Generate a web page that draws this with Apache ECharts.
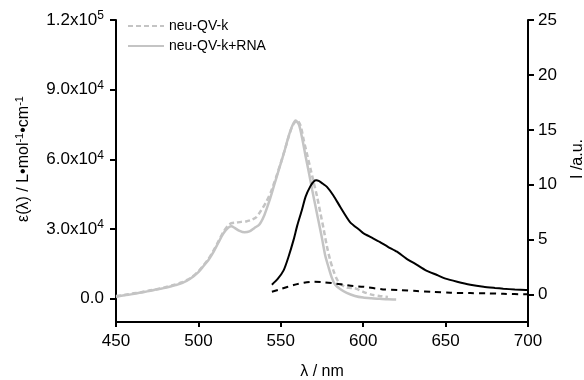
<!DOCTYPE html>
<html>
<head>
<meta charset="utf-8">
<script src="https://cdn.jsdelivr.net/npm/echarts@6/dist/echarts.min.js"></script>
<style>html,body{margin:0;padding:0;background:#fff}#c{width:584px;height:380px}</style>
</head>
<body>
<div id="c"></div>
<script>
// Absorption: neu-QV-k (gray dashed), left axis
const absFreeX = [450,455,460,465,470,475,480,485,490,495,500,503,506,509,512,515,518,520,523,526,529,532,535,538,541,544,547,550,553,556,558,560,562,564,566,568,570,572,574,576,578,580,582,584,586,590,595,600,605,610,615];
const absFreeY = [1200,1600,2300,2700,3600,4100,5000,5900,7100,8800,11800,14300,17000,20500,24500,28500,31500,32500,32800,33100,33300,33900,35000,38000,41500,46000,52000,58500,65500,72500,75500,76800,74500,68000,62000,56000,50000,44000,37000,30000,22500,16500,12000,8500,6500,4800,4500,3000,1800,1200,800];
// Absorption: neu-QV-k+RNA (gray solid), left axis
const absRnaX = [450,455,460,465,470,475,480,485,490,495,500,503,506,509,512,515,518,520,522,525,528,531,534,537,540,543,546,549,552,555,557,559,561,563,565,567,569,571,573,575,577,579,581,583,586,590,595,600,605,610,615,620];
const absRnaY = [800,1500,2000,2700,3300,4100,4700,5700,6700,8600,11500,14000,16600,20000,24000,28000,30500,31200,30500,29200,28600,29000,30500,32000,36000,42000,49000,56000,63000,70500,74500,76700,75000,69000,61500,54500,47000,40000,33000,26000,18500,13500,9000,6000,4200,2500,1200,500,200,0,-200,-300];
// Emission with RNA (black solid), right axis
const emRnaX = [544.6,548,551.7,554.6,557.8,560,562.8,565,567.9,570,571.5,573,575,578,582,586,592,598,600,605,610,615,620.5,626,632.6,638,644.8,650,657,665,673,680,685,692,698.7,700];
const emRnaY = [0.9,1.4,2.2,3.4,5.0,6.3,7.7,8.9,9.85,10.3,10.4,10.35,10.15,9.8,9.0,8.0,6.6,5.85,5.6,5.2,4.8,4.35,3.9,3.3,2.7,2.2,1.78,1.45,1.17,0.9,0.71,0.6,0.53,0.46,0.41,0.4];
// Emission without RNA (black dashed), right axis
const emFreeX = [544.6,550,557.8,564,570,576,582,588,594,600,612,622,632.6,642,653,665,675,685,698.7,700];
const emFreeY = [0.26,0.5,0.87,1.08,1.17,1.12,1.02,0.9,0.77,0.71,0.47,0.4,0.32,0.24,0.16,0.13,0.11,0.07,0.02,0.02];

const xTicks = [450,500,550,600,650,700];
const leftTicks = [0,30000,60000,90000,120000];
const leftTickLabels = {0:'{m|0.0}',30000:'{m|3.0x10}{s|4}',60000:'{m|6.0x10}{s|4}',90000:'{m|9.0x10}{s|4}',120000:'{m|1.2x10}{s|5}'};
const rightTicks = [0,5,10,15,20,25];

const zip = (xs, ys) => xs.map((x, i) => [x, ys[i]]);
const FONT = '"Liberation Sans", Arial, sans-serif';
const axisLine = {show: true, onZero: false, lineStyle: {color: '#000', width: 2}};

const chart = echarts.init(document.getElementById('c'), null, {renderer: 'canvas'});
chart.setOption({
  animation: false,
  backgroundColor: '#fff',
  grid: {left: 116, right: 56, top: 20, bottom: 58, containLabel: false, outerBoundsMode: 'none'},
  legend: {
    data: ['neu-QV-k', 'neu-QV-k+RNA'],
    orient: 'vertical', left: 122, top: 14,
    itemWidth: 36, itemHeight: 10, itemGap: 6,
    itemStyle: {opacity: 0},
    textStyle: {fontFamily: FONT, fontSize: 14, color: '#000'}
  },
  xAxis: {
    type: 'value', min: 450, max: 700, interval: 50,
    axisLine: axisLine,
    axisTick: {show: true, inside: false, length: 5, lineStyle: {color: '#000', width: 2}},
    axisLabel: {fontFamily: FONT, fontSize: 17, color: '#000', margin: 11},
    splitLine: {show: false},
    name: 'λ / nm', nameLocation: 'middle', nameGap: 42,
    nameTextStyle: {fontFamily: FONT, fontSize: 16, color: '#000'}
  },
  yAxis: [
    {
      type: 'value', position: 'left', min: -10000, max: 120000,
      axisLine: axisLine,
      axisTick: {show: true, length: 6, customValues: leftTicks, lineStyle: {color: '#000', width: 2}},
      axisLabel: {
        customValues: leftTicks, margin: 12,
        formatter: v => leftTickLabels[v] || '',
        rich: {
          m: {fontFamily: FONT, fontSize: 17, color: '#000'},
          s: {fontFamily: FONT, fontSize: 12, color: '#000', verticalAlign: 'top', padding: [0,0,8,0]}
        }
      },
      splitLine: {show: false},
      name: '{m|ε(λ) / L•mol}{s|-1}{m|•cm}{s|-1}', nameLocation: 'middle', nameGap: 83,
      nameTextStyle: {
        padding: [0,0,0,24],
        rich: {
          m: {fontFamily: FONT, fontSize: 16, color: '#000'},
          s: {fontFamily: FONT, fontSize: 11, color: '#000', verticalAlign: 'top', padding: [0,0,8,0]}
        }
      }
    },
    {
      type: 'value', position: 'right', min: -2.5, max: 25,
      axisLine: axisLine,
      axisTick: {show: true, length: 6, customValues: rightTicks, lineStyle: {color: '#000', width: 2}},
      axisLabel: {customValues: rightTicks, fontFamily: FONT, fontSize: 17, color: '#000', margin: 10},
      splitLine: {show: false},
      name: 'I /a.u.', nameLocation: 'middle', nameGap: 42,
      nameTextStyle: {fontFamily: FONT, fontSize: 16, color: '#000', padding: [0,0,0,24]}
    }
  ],
  series: [
    {
      name: 'neu-QV-k', type: 'line', yAxisIndex: 0, symbol: 'none', smooth: 0.25,
      data: zip(absFreeX, absFreeY),
      lineStyle: {color: '#c4c4c4', width: 2.5, type: [5, 3]},
      itemStyle: {color: '#c4c4c4'}
    },
    {
      name: 'neu-QV-k+RNA', type: 'line', yAxisIndex: 0, symbol: 'none', smooth: 0.25,
      data: zip(absRnaX, absRnaY),
      lineStyle: {color: '#c4c4c4', width: 2.5},
      itemStyle: {color: '#c4c4c4'}
    },
    {
      name: 'em RNA', type: 'line', yAxisIndex: 1, symbol: 'none', smooth: 0.2,
      data: zip(emRnaX, emRnaY),
      lineStyle: {color: '#000', width: 2},
      itemStyle: {color: '#000'}
    },
    {
      name: 'em free', type: 'line', yAxisIndex: 1, symbol: 'none', smooth: 0.3,
      data: zip(emFreeX, emFreeY),
      lineStyle: {color: '#000', width: 2, type: [6, 5]},
      itemStyle: {color: '#000'}
    }
  ]
});
</script>
</body>
</html>
